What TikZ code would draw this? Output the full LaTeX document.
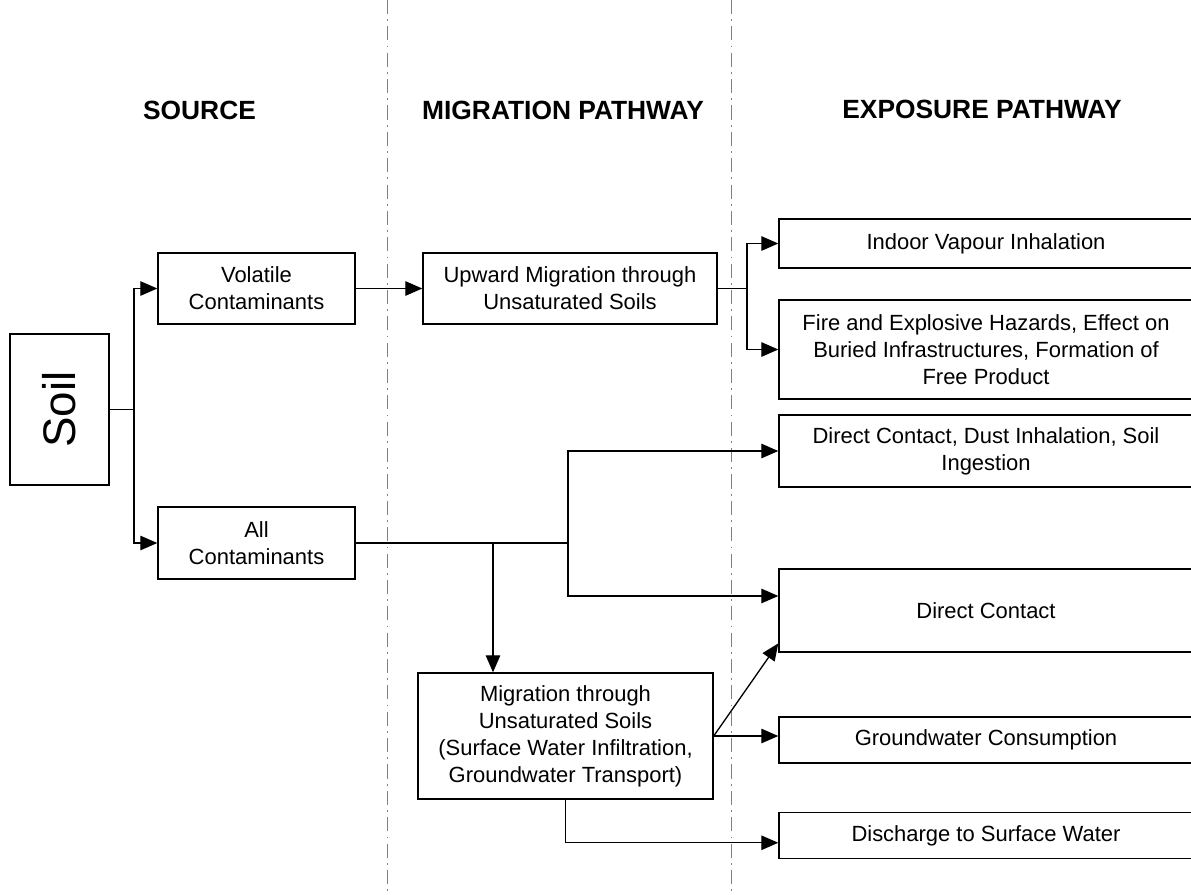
\documentclass[tikz,border=0pt]{standalone}
\usepackage{fontspec}
\setmainfont{Liberation Sans}
\usetikzlibrary{positioning, arrows.meta}
\tikzset{>={Triangle[length=3.4mm,width=2.9mm]}}

\begin{document}
\begin{tikzpicture}[x=0.2mm,y=-0.2mm,
    box/.style={draw,line width=0.8pt,align=center,inner sep=1pt,
        font=\fontsize{12.5}{15.3}\selectfont},
    sz/.style 2 args={minimum width=#1*0.2mm,minimum height=#2*0.2mm},
    head/.style={font=\fontsize{15}{18}\selectfont\bfseries},
    link/.style={line width=0.75pt},
    divider/.style={gray,line width=0.5pt,dash pattern=on 8pt off 3pt on 1pt off 3pt}
    ]

    \useasboundingbox (0,0) rectangle (1191,894);
    \clip (0,0) rectangle (1191,894);

    %column dividers and headings
    \draw[divider] (387,0) -- (387,894);
    \draw[divider] (731,0) -- (731,894);
    \node[head] (hsrc) at (199.5,110) {SOURCE};
    \node[head] (hmig) at (563,110) {MIGRATION PATHWAY};
    \node[head] (hexp) at (982,109) {EXPOSURE PATHWAY};

    %source
    \node[box,sz={99}{151}] (soil) at (59.5,409.5) {\rotatebox{90}{\fontsize{26}{30}\selectfont Soil}};
    \node[box,sz={197}{71}] (vol) at (256.5,288.5) {Volatile\\Contaminants};
    \node[box,sz={197}{72}] (allc) at (256.5,543) {All\\Contaminants};

    %migration
    \node[box,sz={294}{71}] (upw) at (570,288.5) {Upward Migration through\\Unsaturated Soils};
    \node[box,sz={295}{126}] (migr) at (565.5,736) {Migration through\\Unsaturated Soils\\(Surface Water Infiltration,\\Groundwater Transport)};

    %exposure
    \node[box,sz={414}{49}] (indoor) at (986,243.5) {Indoor Vapour Inhalation};
    \node[box,sz={414}{99}] (fire) at (986,349.5) {Fire and Explosive Hazards, Effect on\\Buried Infrastructures, Formation of\\Free Product};
    \node[box,sz={414}{72}] (dust) at (986,451) {Direct Contact, Dust Inhalation, Soil\\Ingestion};
    \node[box,sz={414}{83}] (dcont) at (986,610.5) {Direct Contact};
    \node[box,sz={414}{46}] (gwc) at (986,740) {Groundwater Consumption};
    \node[box,sz={414}{46}] (disch) at (986,835.5) {Discharge to Surface Water};

    %junctions
    \coordinate (sj) at (134,409.5);
    \coordinate (uj) at (747,288.5);
    \coordinate (aj1) at (493,543);
    \coordinate (aj2) at (568,543);

    %connectors
    \draw[link] (soil.east) -- (sj);
    \draw[link,->] (sj) |- (vol.west);
    \draw[link,->] (sj) |- (allc.west);
    \draw[link,->] (vol) -- (upw);
    \draw[link] (upw.east) -- (uj);
    \draw[link,->] (uj) |- (indoor.west);
    \draw[link,->] (uj) |- (fire.west);
    \draw[link] (allc.east) -- (aj2);
    \draw[link,->] (aj1) -- (aj1 |- migr.north);
    \draw[link,->] (aj2) |- (dust.west);
    \draw[link,->] (aj2) |- (dcont.176);
    \draw[link,->] (migr.east) -- (dcont.189);
    \draw[link,->] (migr.east) -- (migr.east -| gwc.west);
    \draw[link,->] (migr.south) |- (disch.182);

\end{tikzpicture}
\end{document}
